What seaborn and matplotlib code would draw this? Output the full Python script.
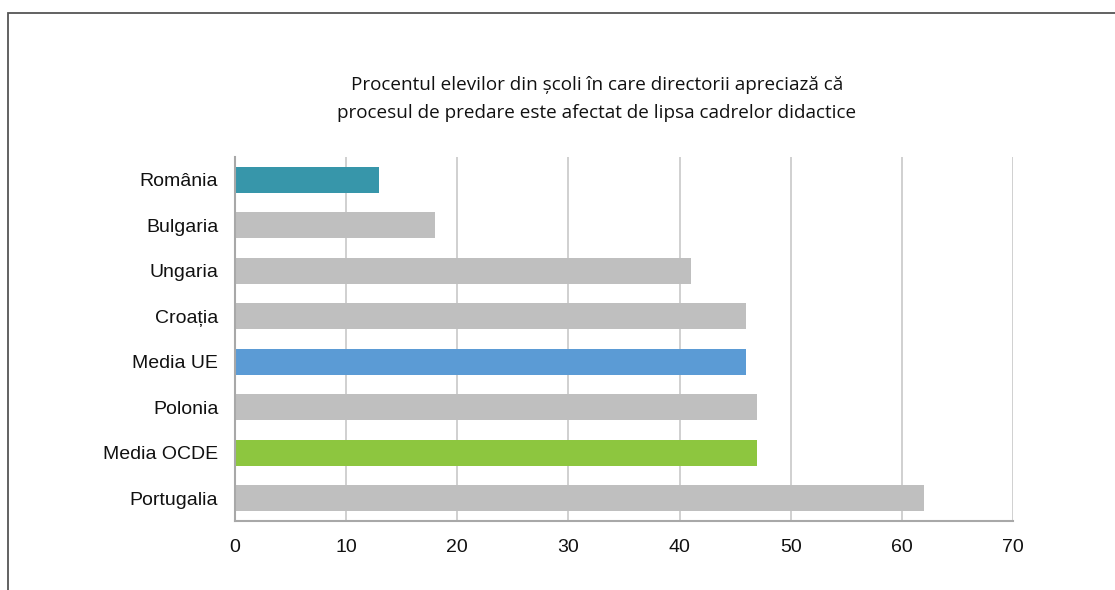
import matplotlib
matplotlib.use("Agg")
import matplotlib.pyplot as plt
import seaborn as sns
import pandas as pd
from matplotlib.patches import Rectangle

categories = ["România", "Bulgaria", "Ungaria", "Croația", "Media UE",
              "Polonia", "Media OCDE", "Portugalia"]
values = [13, 18, 41, 46, 46, 47, 47, 62]
bar_colors = ["#3796AA", "#BFBFBF", "#BFBFBF", "#BFBFBF", "#5B9BD5",
              "#BFBFBF", "#8DC63F", "#BFBFBF"]
x_ticks = [0, 10, 20, 30, 40, 50, 60, 70]
title = ("Procentul elevilor din școli în care directorii apreciază că\n"
         "procesul de predare este afectat de lipsa cadrelor didactice")

sns.set_theme(style="white")
plt.rcParams["font.family"] = ["Liberation Sans", "DejaVu Sans"]

df = pd.DataFrame({"cat": categories, "val": values})

fig = plt.figure(figsize=(11.15, 5.9), dpi=100)
W, H = 1115, 590
ax = fig.add_axes([235 / W, 1 - 521 / H, (1013 - 235) / W, (521 - 157) / H])

sns.barplot(data=df, x="val", y="cat", hue="cat", palette=bar_colors,
            legend=False, ax=ax, width=0.57, saturation=1, zorder=3,
            linewidth=0)

ax.set_xlim(0, 70)
ax.set_xticks(x_ticks)
ax.set_xticklabels([str(t) for t in x_ticks])
ax.tick_params(axis="y", labelsize=14, labelcolor="#111111", length=0, pad=12)
ax.tick_params(axis="x", labelsize=14, labelcolor="#111111", length=0, pad=13)
ax.set_xlabel("")
ax.set_ylabel("")
ax.grid(axis="x", color="#C8C8C8", linewidth=1.2, zorder=0)
ax.grid(axis="y", visible=False)
for side in ["top", "right"]:
    ax.spines[side].set_visible(False)
for side in ["left", "bottom"]:
    ax.spines[side].set_color("#A8A8A8")
    ax.spines[side].set_linewidth(1.5)
    ax.spines[side].set_zorder(4)

fig.text(597 / W, 1 - 99 / H, title, ha="center", va="center",
         fontsize=13.6, family=["Open Sans", "DejaVu Sans"], color="#111111",
         linespacing=1.65)

frame = Rectangle((8 / W, -0.1), 1.2, 1 - 13 / H + 0.1, transform=fig.transFigure,
                  fill=False, edgecolor="#555555", linewidth=1.3, clip_on=False)
fig.patches.append(frame)

fig.savefig("out.png", dpi=100)
